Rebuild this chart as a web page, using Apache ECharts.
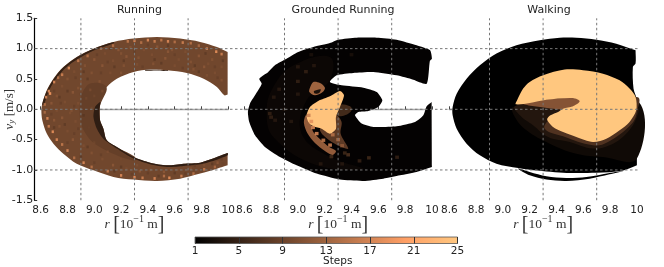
<!DOCTYPE html>
<html><head><meta charset="utf-8">
<style>html,body{margin:0;padding:0;background:#fff}#c{width:664px;height:267px;filter:blur(.45px)}</style>
<script src="https://cdn.jsdelivr.net/npm/echarts@6/dist/echarts.min.js"></script>
</head><body><div id="c"></div>
<script>
const titles = ['Running','Grounded Running','Walking'];
const rTicksMin = 8.6, rTicksMax = 10, rInterval = 0.2;
const vMin = -1.5, vMax = 1.5, vInterval = 0.5;
const guideR = [8.9,9.3,9.7];
const guideV = [-1,0,1];
const colorbarStops = [1,5,9,13,17,20.2,21,25];

// Running: region outlines [r, v]
const runBody = [[9.995,.945],[9.995,.945],[9.915,1.027],[9.79,1.11],[9.64,1.165],[9.467,1.192],[9.293,1.165],[9.143,1.11],[8.994,1.0],[8.869,.863],[8.769,.698],[8.695,.505],[8.645,.313],[8.612,.093],[8.605,-.016],[8.612,-.181],[8.645,-.40],[8.695,-.566],[8.769,-.731],[8.869,-.896],[8.994,-1.005],[9.143,-1.115],[9.293,-1.159],[9.467,-1.181],[9.64,-1.143],[9.79,-1.06],[9.915,-.978],[9.995,-.923],[9.995,-.923],[9.995,-.72],[9.995,-.72],[9.915,-.786],[9.79,-.879],[9.666,-.896],[9.542,-.923],[9.417,-.879],[9.293,-.786],[9.168,-.621],[9.093,-.511],[9.068,-.319],[9.043,-.181],[9.038,0],[9.048,.203],[9.093,.368],[9.168,.505],[9.293,.615],[9.417,.654],[9.542,.643],[9.691,.599],[9.816,.505],[9.915,.368],[9.97,.231],[9.995,.242],[9.995,.242]];
const runShade = [[8.95,.4],[8.89,-.05],[8.95,-.45],[9.09,-.68],[9.3,-.85],[9.3,-.78],[9.09,-.5],[9.04,0],[9.09,.37]];
const runInnerDark = [[9.006,.038],[8.994,-.126],[9.019,-.319],[9.068,-.484],[9.168,-.648],[9.293,-.813],[9.417,-.907],[9.542,-.951],[9.666,-.934],[9.79,-.907],[9.915,-.83],[9.995,-.758],[9.995,-.72],[9.915,-.786],[9.79,-.879],[9.666,-.896],[9.542,-.923],[9.417,-.879],[9.293,-.786],[9.168,-.621],[9.093,-.511],[9.068,-.319],[9.043,-.181],[9.038,0],[9.045,.12]];
const runTopDark = [[9.38,.65],[9.46,.652],[9.55,.642],[9.55,.63],[9.46,.64],[9.38,.635]];
const runOuterDark = [[8.61,.08],[8.648,.313],[8.698,.505],[8.772,.698],[8.872,.863],[8.997,1.0],[9.146,1.11],[9.146,1.09],[9.0,.975],[8.885,.84],[8.785,.68],[8.712,.495],[8.66,.3],[8.625,.08]];
// Running: speckle cells [r, v, step]
const runCells = [
[9.25,1.12,16],[9.3,1.13,18],[9.35,1.1,15],[9.4,1.14,18],[9.45,1.12,17],[9.5,1.14,16],[9.55,1.12,18],[9.6,1.11,15],[9.66,1.1,17],[9.72,1.09,15],[9.84,1.0,17],[9.91,.95,19],[9.95,.91,17],[9.78,1.05,14],
[8.66,.3,19],[8.64,.2,18],[8.67,.26,20],[8.7,.45,18],[8.73,.52,15],[8.76,.57,17],[8.81,.68,18],[8.88,.8,16],[8.95,.88,15],[9.05,1.0,14],[9.14,1.05,15],[8.63,.08,15],[8.63,-.05,14],
[8.65,-.15,18],[8.66,-.28,17],[8.69,-.37,19],[8.72,-.5,18],[8.76,-.58,16],[8.8,-.68,18],[8.85,-.8,15],[8.92,-.88,18],[8.98,-.95,15],[9.1,-1.02,17],[9.2,-1.09,18],[9.3,-1.12,19],[9.36,-1.13,17],[9.45,-1.14,18],[9.52,-1.1,15],[9.56,-1.13,19],[9.65,-1.1,17],[9.74,-1.06,15],[9.82,-.99,16],[9.9,-.95,14],
[8.72,.22,12],[8.76,.38,11],[8.8,.5,12],[8.85,.62,11],[8.93,.72,12],[9.0,.82,13],[9.08,.92,11],[9.18,.98,13],[9.27,1.02,12],[9.37,.98,11],[9.47,1.03,13],[9.58,.98,12],[9.68,.95,11],[9.78,.88,13],[9.88,.82,12],[9.95,.7,11],
[8.78,.12,11],[8.84,.28,13],[8.9,.45,11],[8.98,.6,12],[9.06,.72,13],[9.14,.8,11],[9.24,.87,13],[9.33,.85,12],[9.43,.9,11],[9.53,.84,13],[9.63,.82,11],[9.72,.78,12],[9.82,.7,13],[9.9,.6,11],[9.95,.48,12],
[8.72,-.02,11],[8.76,-.14,13],[8.82,-.06,11],[8.88,.1,11],[8.94,.18,10],[8.97,.32,11],[9.04,.46,12],[9.12,.6,11],[9.22,.72,12],[9.32,.74,11],[9.44,.75,12],[9.6,.72,11],[9.74,.66,12],[9.84,.56,11],
[8.74,-.28,12],[8.8,-.36,11],[8.86,-.2,11],[8.84,-.5,13],[8.92,-.6,11],[8.98,-.72,12],[9.06,-.82,11],[9.14,-.92,13],[9.24,-.98,11],[9.34,-1.02,13],[9.42,-1.0,12],[9.52,-1.03,13],[9.62,-1.0,11],[9.72,-.98,12],[9.82,-.92,11],[9.92,-.88,13],
[8.96,-.3,9],[9.0,-.55,10],[9.1,-.7,11],[9.2,-.82,10],[9.32,-.92,11],[8.98,.02,10],[9.0,.22,10],[9.06,.3,11],[9.2,.6,12],[9.85,.75,11],[9.55,.95,13],[9.2,.92,12],[8.88,.35,12],[8.83,-.02,12],[8.68,.1,13],[8.7,-.18,13],
[8.75,.1,8],[8.8,.3,7],[8.9,.25,8],[8.95,.5,7],[9.05,.6,8],[9.15,.7,7],[9.3,.95,8],[9.45,.82,7],[9.6,.9,8],[9.75,.72,7],[9.9,.7,8],[8.78,-.25,7],[8.85,-.4,8],[8.95,-.62,7],[9.05,-.75,8],[9.2,-.95,7],[9.4,-1.05,8],[9.6,-1.05,7],[9.75,-.93,8],[9.88,-.9,7],
[9.1,.78,8],[9.22,.8,7],[9.36,.7,8],[9.5,.76,7],[9.66,.68,8],[9.78,.62,7],[9.92,.52,8],[9.96,.8,7],[8.7,.3,8],[8.74,.2,7],[8.86,.52,8],[8.92,.62,7],[9.02,.9,8],[9.12,1.0,7],[9.4,1.06,8],[9.55,1.05,7],[9.7,1.0,8],[9.83,.92,7],
[8.68,-.08,8],[8.7,-.3,7],[8.8,-.55,8],[8.9,-.78,7],[9.0,-.88,8],[9.15,-1.02,7],[9.28,-1.07,8],[9.48,-1.1,7],[9.68,-1.06,8],[9.8,-1.0,7],[9.95,-.82,8],[9.96,-.9,9],[8.85,.05,8],[8.92,-.1,7],[8.88,-.32,8]];

// Grounded Running
const grdBody = [[9.961,.423],[9.861,.489],[9.737,.56],[9.563,.615],[9.413,.599],[9.289,.56],[9.239,.451],[9.326,.396],[9.488,.357],[9.588,.286],[9.63,.148],[9.6,.038],[9.525,-.027],[9.451,-.044],[9.426,-.099],[9.476,-.236],[9.563,-.291],[9.737,-.28],[9.874,-.209],[9.936,-.099],[9.961,.049],[9.998,.121],[9.998,.121],[10,-.951],[10,-.951],[9.886,-1.033],[9.762,-1.088],[9.637,-1.143],[9.488,-1.181],[9.314,-1.159],[9.14,-1.06],[8.99,-.923],[8.866,-.786],[8.754,-.621],[8.68,-.429],[8.637,-.209],[8.627,-.044],[8.642,.093],[8.68,.23],[8.73,.42],[8.712,.505],[8.779,.615],[8.829,.725],[8.903,.819],[9.003,.945],[9.115,1.027],[9.239,1.093],[9.301,1.148],[9.438,1.181],[9.588,1.181],[9.737,1.148],[9.886,1.055],[9.986,.973],[10,.835],[9.985,.8]];
const grdTint = [[8.767,-.016],[8.816,.368],[8.966,.725],[9.239,.863],[9.239,.478],[9.065,.148],[9.028,-.401],[9.239,-.786],[9.488,-.978],[9.14,-.923],[8.816,-.456]];
const grdFade = [[9.301,.066],[9.389,.049],[9.401,-.016],[9.351,-.099],[9.294,-.099]];
const grdUpper = [[9.09,.357],[9.115,.451],[9.165,.434],[9.202,.357],[9.185,.286],[9.127,.231],[9.085,.286]];
const grdUpperGap = [[9.12,.3],[9.17,.33],[9.16,.27],[9.125,.26]];
const grdTail = [[9.06,-.099],[9.045,-.225],[9.07,-.39],[9.127,-.555],[9.202,-.687],[9.259,-.753],[9.284,-.687],[9.234,-.621],[9.17,-.5],[9.115,-.374],[9.102,-.28],[9.09,-.18]];
const grdLower = [[9.284,-.1],[9.326,-.209],[9.319,-.401],[9.376,-.648],[9.326,-.621],[9.252,-.538],[9.19,-.429],[9.165,-.319]];
const grdCore = [[9.314,.302],[9.344,.231],[9.314,.038],[9.284,-.126],[9.284,-.319],[9.239,-.401],[9.177,-.319],[9.115,-.28],[9.078,-.209],[9.065,-.099],[9.09,.038],[9.152,.137],[9.239,.214]];
const grdCells = [[9.0,.46,5],[9.06,.62,5],[8.8,-.13,5],[8.79,-.07,5],[9.12,.72,4],[8.82,.2,4],[9.375,-.75,7],[9.53,-.8,6],[9.74,-.79,5],[9.46,-.85,5],[9.33,-.9,4],[9.25,-.78,6],[9.17,-.9,4],[8.83,-.18,4],[8.9,.0,3],[9.0,.7,4],[9.1,.9,3],[9.4,.9,3],[9.35,-.72,6],[8.95,-.2,4],[8.86,.33,4],[9.0,.25,4],
[9.113,-.3,18],[9.14,-.4,18],[9.19,-.51,16],[9.24,-.59,17],[9.1,-.2,18],[9.08,-.1,16],[9.3,-.5,14],[9.26,-.42,15],[9.33,-.6,12]];

// Walking
const walkBody = [[9.99,.973],[9.846,1.082],[9.697,1.148],[9.548,1.181],[9.424,1.181],[9.275,1.137],[9.101,1.055],[8.952,.918],[8.828,.725],[8.729,.505],[8.655,.258],[8.625,.038],[8.625,-.099],[8.655,-.319],[8.729,-.566],[8.828,-.758],[8.952,-.896],[9.114,-.967],[9.2,-.995],[9.449,-1.044],[9.697,-1.044],[9.891,-1.011],[10,-.923],[10,-.923],[10,.148],[9.975,.34],[9.97,.698],[9.99,.753],[9.99,.973]];
const walkBand = [[9.114,-.978],[9.2,-1.088],[9.325,-1.159],[9.474,-1.181],[9.647,-1.143],[9.796,-1.071],[9.896,-1.016],[9.796,-1.049],[9.623,-1.115],[9.474,-1.132],[9.325,-1.104],[9.2,-1.033]];
const walkHaloWide = [[9.077,.038],[9.089,-.126],[9.176,-.346],[9.35,-.566],[9.548,-.731],[9.747,-.786],[10,-.813],[10,.148],[9.449,.148]];
const walkHaloMid = [[9.089,.049],[9.126,-.099],[9.225,-.264],[9.337,-.456],[9.498,-.538],[9.672,-.648],[9.796,-.593],[9.92,-.401],[10,-.126],[10,.038],[9.573,.148],[9.325,.148]];
const walkHaloNear = [[9.106,.082],[9.325,.181],[9.585,.159],[9.548,.027],[9.436,-.044],[9.35,-.154],[9.312,-.319],[9.449,-.445],[9.672,-.593],[9.784,-.538],[9.958,-.247],[10,-.044],[10,.203]];
const walkTongue = [[9.15,.09],[9.325,.16],[9.53,.19],[9.58,.13],[9.52,.04],[9.44,.0],[9.33,.02]];
const walkCore = [[9.461,.654],[9.3,.56],[9.2,.451],[9.151,.341],[9.106,.148],[9.096,.082],[9.2,.104],[9.325,.159],[9.523,.187],[9.573,.132],[9.523,.049],[9.449,.011],[9.412,-.044],[9.355,-.099],[9.33,-.17],[9.374,-.291],[9.449,-.374],[9.548,-.456],[9.672,-.538],[9.772,-.484],[9.871,-.346],[9.945,-.209],[9.995,-.016],[9.99,.203],[9.945,.341],[9.871,.478],[9.747,.588],[9.598,.643]];

function copper(step){
  const t=Math.max(0,Math.min(1,(step-1)/24));
  return 'rgb('+Math.round(Math.min(1,1.25*t)*255)+','+Math.round(.7812*t*255)+','+Math.round(.4975*t*255)+')';
}
const panelRegions = [
  [{path:runBody,step:9.5,smooth:.3},{path:runShade,step:8.6,smooth:.4},{path:runInnerDark,step:4.5,smooth:.25},{path:runTopDark,step:5,smooth:.2},{path:runOuterDark,step:5,smooth:.3}],
  [{path:grdBody,step:1.3,smooth:.2},{path:grdTint,step:1.9,smooth:.4},{path:grdFade,step:6,smooth:.4},{path:grdUpper,step:13,smooth:.3},{path:grdUpperGap,step:3,smooth:.3},{path:grdLower,step:8,smooth:.3},{path:grdTail,step:12,smooth:.3},{path:grdCore,step:24.5,smooth:.25}],
  [{path:walkBody,step:1,smooth:.3},{path:walkBand,step:1,smooth:.3},{path:walkHaloWide,step:2.2,smooth:.4},{path:walkHaloMid,step:3.6,smooth:.4},{path:walkHaloNear,step:7,smooth:.4},{path:walkTongue,step:11,smooth:.3},{path:walkCore,step:25,smooth:.3}]
];
const panelCells = [{cells:runCells,dr:.017,dv:.045},{cells:grdCells,dr:.028,dv:.055},{cells:[],dr:.02,dv:.05}];

const panelLeft=[40.7,244.3,449.3], panelWidth=187.6, panelTop=18.3, panelHeight=182;
const grid=[], xAxis=[], yAxis=[], series=[], title=[];
const labelFont={fontFamily:'DejaVu Sans',fontSize:10.5,color:'#222'};
const xName='{i|r} {b|[}{n|10}{s|\u22121}{n| m}{b|]}';
const nameRich={i:{fontFamily:'Liberation Serif',fontStyle:'italic',fontSize:13.5,color:'#333'},n:{fontFamily:'Liberation Serif',fontSize:13.5,color:'#333'},b:{fontFamily:'Liberation Serif',fontSize:20,color:'#333'},s:{fontFamily:'Liberation Serif',fontSize:10,color:'#333',verticalAlign:'top'},u:{fontFamily:'Liberation Serif',fontStyle:'italic',fontSize:9,color:'#333',verticalAlign:'bottom'},m:{fontFamily:'Liberation Serif',fontSize:13,color:'#333'}};

titles.forEach((t,i)=>{
  grid.push({left:panelLeft[i],top:panelTop,width:panelWidth,height:panelHeight,outerBoundsMode:'none'});
  xAxis.push({type:'value',gridIndex:i,min:rTicksMin,max:rTicksMax,interval:rInterval,
    axisLine:{show:true,lineStyle:{color:'#a8a8a8',width:1.4}},
    axisTick:{show:true,inside:true,length:3,lineStyle:{color:'#444',width:1}},
    axisLabel:Object.assign({margin:4,hideOverlap:false,showMinLabel:true,showMaxLabel:true,formatter:v=>Math.abs(v-10)<1e-6?'10':v.toFixed(1)},labelFont),
    splitLine:{show:false},name:xName,nameLocation:'middle',nameGap:14,nameMoveOverlap:false,nameTextStyle:{rich:nameRich}});
  const y={type:'value',gridIndex:i,min:vMin,max:vMax,interval:vInterval,splitLine:{show:false}};
  if(i===0){
    Object.assign(y,{offset:6.5,axisLine:{show:true,lineStyle:{color:'#000',width:1.2}},
      axisTick:{show:true,inside:true,length:3,lineStyle:{color:'#333'}},
      axisLabel:Object.assign({margin:1,showMinLabel:true,showMaxLabel:true,formatter:v=>v.toFixed(1)},labelFont,{fontSize:11}),
      name:'{i|v}{u|y} {m|[m/s]}',nameLocation:'middle',nameGap:18,nameRotate:90,nameMoveOverlap:false,nameTextStyle:{rich:nameRich}});
  } else {
    Object.assign(y,{axisLine:{show:false},axisTick:{show:false},axisLabel:{show:false}});
  }
  yAxis.push(y);
  const regions=panelRegions[i];
  series.push({type:'custom',coordinateSystem:'cartesian2d',xAxisIndex:i,yAxisIndex:i,z:2,silent:true,animation:false,
    data:regions.map(r=>r.path[0]),encode:{x:0,y:1},
    renderItem:(p,api)=>{const rg=regions[p.dataIndex];
      return {type:'polygon',shape:{points:rg.path.map(q=>api.coord(q)),smooth:rg.smooth},style:{fill:copper(rg.step)}};}});
  const pc=panelCells[i];
  series.push({type:'custom',coordinateSystem:'cartesian2d',xAxisIndex:i,yAxisIndex:i,z:3,silent:true,animation:false,
    data:pc.cells,encode:{x:0,y:1},
    renderItem:(p,api)=>{const c=api.coord([api.value(0),api.value(1)]),s=api.size([pc.dr,pc.dv]),st=api.value(2);
      return {type:'rect',shape:{x:c[0]-s[0]/2,y:c[1]-s[1]/2,width:s[0],height:s[1]},style:{fill:copper(st),opacity:st<14&&i===0?.5:.85}};}});
  guideR.forEach(r=>series.push({type:'line',xAxisIndex:i,yAxisIndex:i,z:10,silent:true,animation:false,showSymbol:false,
    data:[[r,vMin],[r,vMax]],lineStyle:{color:'#777',width:1,type:[2.5,2.5]}}));
  title.push({text:t,left:[134.5,338,544][i],top:0,textAlign:'center',textStyle:{fontFamily:'DejaVu Sans',fontWeight:'normal',fontSize:11,color:'#222'}});
});
// grid 3: horizontal guides across all panels
grid.push({left:35,top:panelTop,width:605,height:panelHeight,outerBoundsMode:'none'});
xAxis.push({type:'value',gridIndex:3,min:0,max:1,show:false});
yAxis.push({type:'value',gridIndex:3,min:vMin,max:vMax,show:false});
guideV.forEach(v=>series.push({type:'line',xAxisIndex:3,yAxisIndex:3,z:10,silent:true,animation:false,showSymbol:false,
  data:[[0,v],[1,v]],lineStyle:{color:'#777',width:1,type:[2.5,2.5]}}));
// grid 4: colorbar
grid.push({left:195,top:237,width:262.5,height:6.5,outerBoundsMode:'none'});
xAxis.push({type:'value',gridIndex:4,min:1,max:25,interval:4,z:5,
  axisLine:{show:false},axisTick:{show:true,inside:true,length:6.5,lineStyle:{color:'#333',width:1}},
  axisLabel:Object.assign({margin:2,showMinLabel:true,showMaxLabel:true},labelFont),splitLine:{show:false},
  name:'Steps',nameLocation:'middle',nameGap:12.5,nameMoveOverlap:false,nameTextStyle:Object.assign({},labelFont,{padding:[0,0,0,23]})});
yAxis.push({type:'value',gridIndex:4,min:0,max:1,show:false});
series.push({type:'custom',coordinateSystem:'cartesian2d',xAxisIndex:4,yAxisIndex:4,z:2,silent:true,animation:false,
  data:[[1,0,25,1]],encode:{x:[0,2],y:[1,3]},
  renderItem:(p,api)=>{const a=api.coord([api.value(0),api.value(3)]),b=api.coord([api.value(2),api.value(1)]);
    return {type:'rect',shape:{x:a[0],y:a[1],width:b[0]-a[0],height:b[1]-a[1]},
      style:{stroke:'#555',lineWidth:.8,fill:new echarts.graphic.LinearGradient(0,0,1,0,colorbarStops.map(s=>({offset:(s-1)/24,color:copper(s)})))}};}});

const chart=echarts.init(document.getElementById('c'),null,{renderer:'canvas',width:664,height:267});
chart.setOption({animation:false,backgroundColor:'#fff',title,grid,xAxis,yAxis,series});
</script></body></html>
